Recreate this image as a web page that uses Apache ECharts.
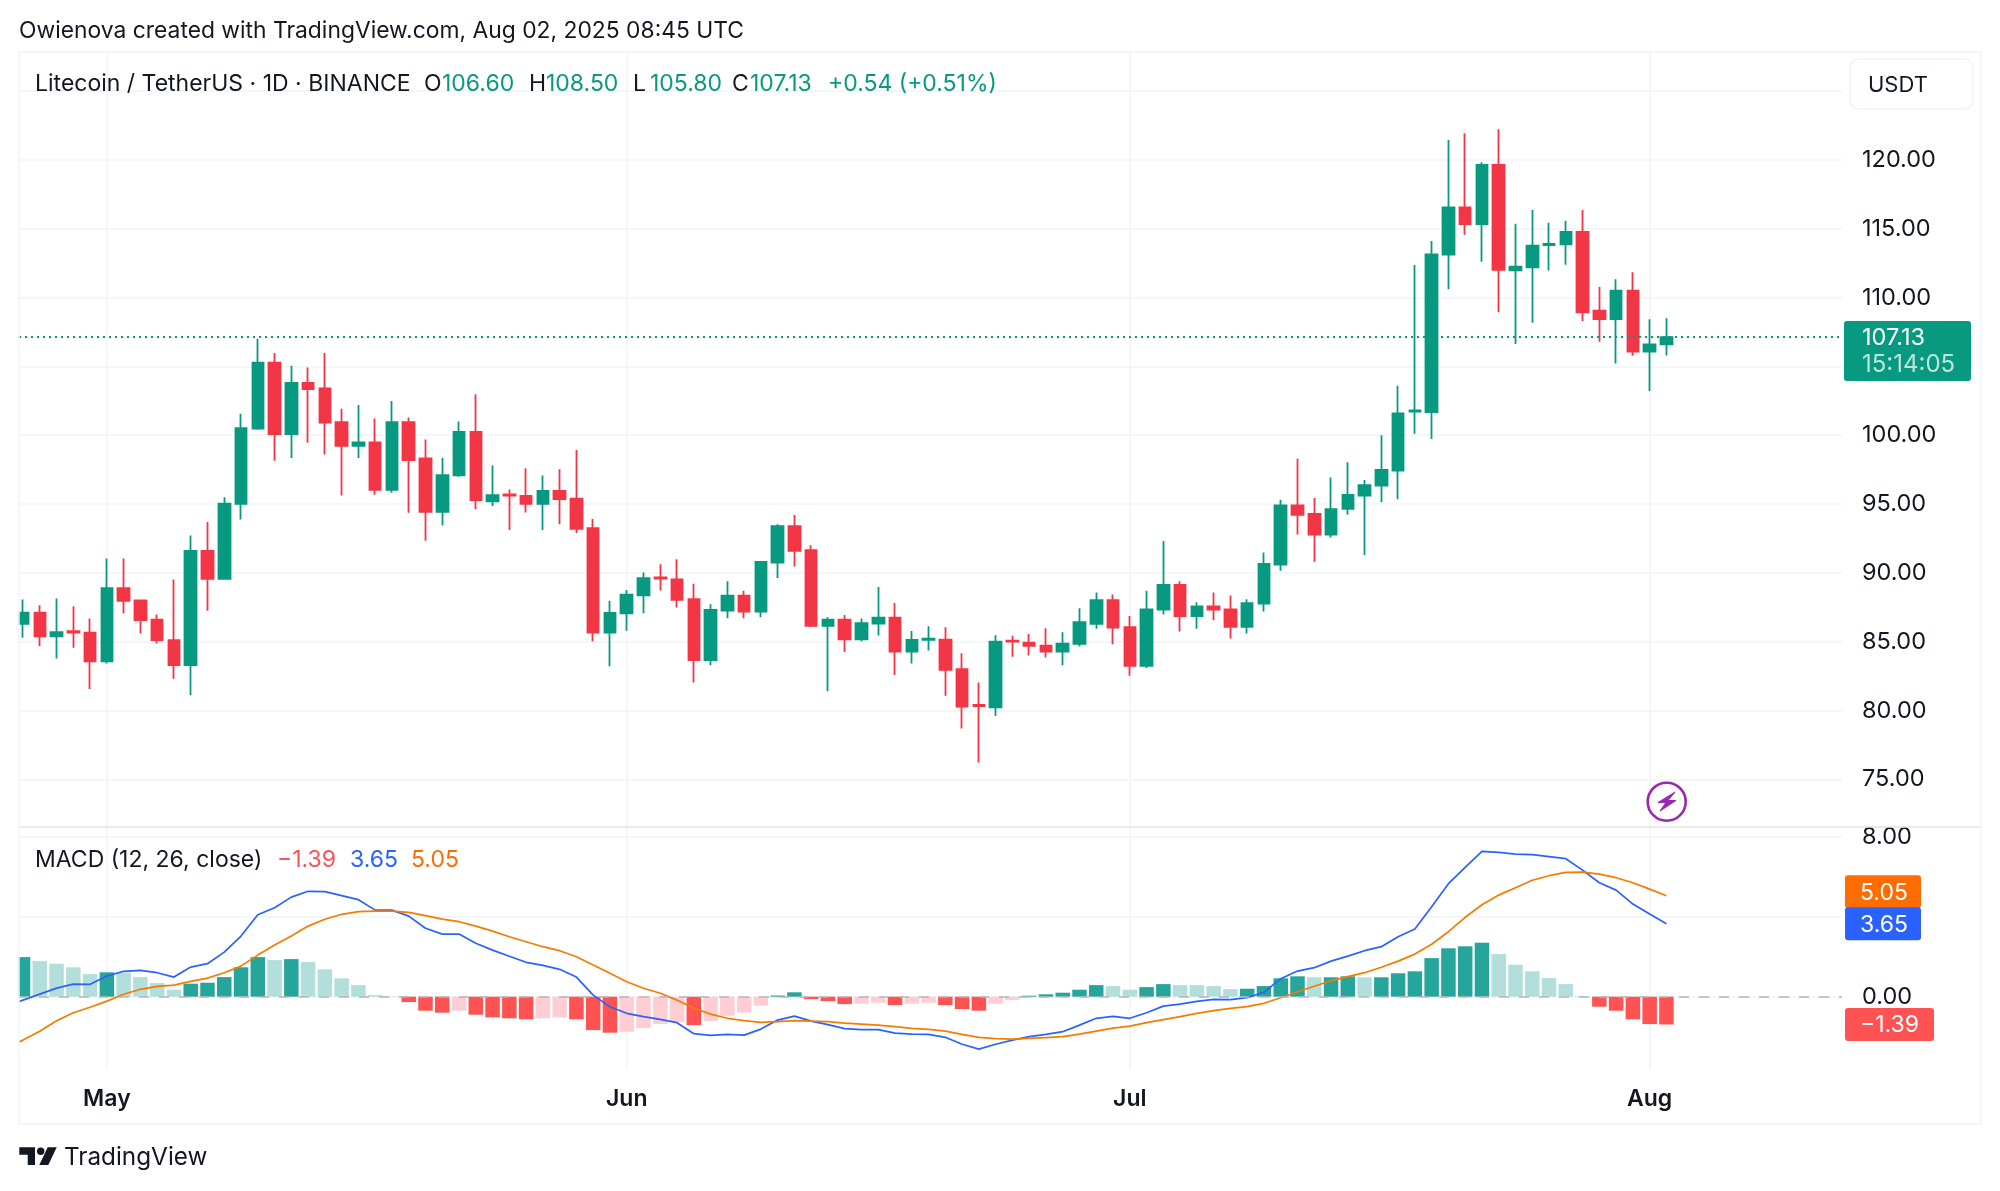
<!DOCTYPE html>
<html>
<head>
<meta charset="utf-8">
<title>Litecoin / TetherUS</title>
<script src="https://cdn.jsdelivr.net/npm/echarts@6/dist/echarts.min.js"></script>
<style>
  html, body { margin: 0; padding: 0; background: #fff; }
  #container { width: 2000px; height: 1191px; }
</style>
</head>
<body>
<div id="container"></div>
<script>
// daily candles, Apr 26 -> Aug 2 2025, x value is the day index
const opens = [86.30,87.10,85.38,85.77,85.65,83.56,88.89,87.99,86.59,85.11,83.29,91.60,89.57,95.02,100.49,105.27,100.08,103.81,103.40,100.95,99.23,99.48,96.04,100.95,98.31,94.44,97.08,100.25,95.19,95.70,95.59,95.01,95.95,95.40,93.24,85.66,87.06,88.37,89.66,89.53,88.08,83.65,87.26,88.35,87.19,90.75,93.39,91.64,86.14,86.60,85.17,86.31,86.75,84.28,85.13,85.15,83.00,80.40,80.23,85.08,84.93,84.71,84.28,84.84,86.29,88.01,86.05,83.24,87.33,89.12,86.85,87.57,87.35,86.07,87.77,90.60,94.91,94.28,92.78,94.65,95.62,96.34,97.43,101.71,101.69,113.12,116.56,115.35,119.64,111.98,112.20,113.82,113.87,114.77,109.05,108.44,110.50,106.07,106.60];
const closes = [87.10,85.38,85.69,85.65,83.56,88.89,87.97,86.56,85.11,83.29,91.60,89.57,95.02,100.52,105.27,100.08,103.81,103.35,100.91,99.23,99.48,96.04,100.95,98.19,94.44,97.10,100.25,95.29,95.65,95.62,95.01,95.95,95.35,93.19,85.66,87.09,88.42,89.61,89.58,88.03,83.65,87.31,88.35,87.19,90.79,93.39,91.59,86.14,86.60,85.17,86.34,86.75,84.28,85.13,85.22,82.95,80.28,80.31,85.00,85.00,84.69,84.28,84.86,86.41,88.01,86.02,83.24,87.35,89.12,86.85,87.57,87.33,86.07,87.79,90.65,94.91,94.21,92.78,94.62,95.66,96.37,97.48,101.59,101.81,113.14,116.56,115.35,119.64,112.01,112.25,113.77,113.90,114.77,108.93,108.44,110.50,106.07,106.60,107.13];
const lows = [85.28,84.68,83.78,84.55,81.55,83.42,87.05,85.60,84.87,82.30,81.11,87.24,89.52,93.88,100.40,98.14,98.34,99.45,98.60,95.62,98.34,95.67,95.82,94.37,92.33,93.44,96.98,94.63,94.85,93.11,94.38,93.12,93.53,92.90,85.03,83.21,85.80,87.06,88.71,87.48,82.03,83.29,86.70,86.70,86.77,89.63,90.46,86.07,81.39,84.25,85.03,85.44,82.58,83.41,84.35,81.06,78.68,76.22,79.60,83.91,83.99,83.84,83.29,84.64,85.93,84.81,82.53,83.09,86.97,85.73,85.93,86.56,85.22,85.59,87.19,90.16,92.78,90.81,92.56,94.23,91.29,95.13,95.35,100.10,99.73,110.60,114.57,112.61,108.93,106.63,108.18,111.98,112.39,108.30,106.80,105.22,105.78,103.21,105.80];
const highs = [88.07,87.65,88.14,87.58,86.69,91.05,91.05,88.07,86.98,89.52,92.72,93.69,95.50,101.56,107.01,105.97,105.05,104.93,105.97,101.92,102.19,101.22,102.48,101.29,99.69,98.36,101.00,102.97,97.80,96.06,97.60,97.07,97.53,98.93,93.92,87.98,88.76,90.02,90.63,90.99,89.20,87.72,89.39,88.69,90.84,93.53,94.21,92.00,86.77,86.94,86.68,88.98,87.81,85.78,86.12,86.05,84.16,82.04,85.47,85.42,85.56,85.97,85.68,87.42,88.57,88.42,86.87,88.69,92.32,89.39,87.86,88.57,88.35,88.08,91.47,95.32,98.30,95.44,96.92,98.04,96.75,100.00,103.60,112.37,114.11,121.45,121.94,119.83,122.23,115.37,116.37,115.45,115.59,116.37,110.77,111.33,111.84,108.42,108.50];

const histValues = [1.98,1.78,1.65,1.47,1.13,1.22,1.20,0.98,0.68,0.35,0.65,0.70,0.98,1.47,1.98,1.83,1.88,1.73,1.37,0.92,0.58,0.08,0.02,-0.27,-0.70,-0.80,-0.70,-0.90,-1.03,-1.08,-1.13,-1.08,-1.03,-1.13,-1.67,-1.80,-1.75,-1.57,-1.37,-1.28,-1.42,-1.22,-0.95,-0.80,-0.45,0.06,0.22,-0.12,-0.22,-0.37,-0.35,-0.30,-0.42,-0.35,-0.30,-0.42,-0.62,-0.70,-0.35,-0.17,0.05,0.12,0.20,0.35,0.58,0.53,0.35,0.48,0.63,0.58,0.58,0.53,0.38,0.40,0.53,0.92,1.02,0.97,0.97,1.02,0.97,0.97,1.17,1.27,1.93,2.42,2.52,2.70,2.13,1.60,1.27,0.93,0.63,0.03,-0.50,-0.70,-1.13,-1.37,-1.39];
// G/g dark and light green, R/r dark and light red
const histShades = ["G","g","g","g","g","G","g","g","g","g","G","G","G","G","G","g","G","g","g","g","g","g","g","R","R","R","r","R","R","R","R","r","r","R","R","R","r","r","r","r","R","r","r","r","r","G","G","R","R","R","r","r","R","r","r","R","R","R","r","r","G","G","G","G","G","g","g","G","G","g","g","g","g","G","G","G","G","g","G","G","g","G","G","G","G","G","G","G","g","g","g","g","g","g","R","R","R","R","R"];
const macdLine = [-0.17,0.13,0.43,0.63,0.62,1.03,1.27,1.32,1.20,0.98,1.48,1.65,2.23,3.03,4.10,4.45,4.98,5.27,5.25,5.05,4.85,4.33,4.33,4.03,3.42,3.13,3.13,2.67,2.33,2.02,1.72,1.57,1.37,0.98,0.08,-0.50,-0.83,-1.00,-1.13,-1.30,-1.85,-1.93,-1.88,-1.92,-1.62,-1.17,-0.97,-1.22,-1.40,-1.60,-1.65,-1.65,-1.82,-1.87,-1.88,-2.03,-2.38,-2.62,-2.38,-2.17,-2.00,-1.88,-1.75,-1.42,-1.08,-0.98,-1.08,-0.80,-0.47,-0.37,-0.23,-0.13,-0.15,-0.05,0.22,0.90,1.28,1.45,1.78,2.03,2.30,2.50,3.00,3.38,4.50,5.65,6.47,7.27,7.22,7.13,7.10,7.00,6.90,6.33,5.70,5.33,4.63,4.13,3.65];
const signalLine = [-2.17,-1.73,-1.20,-0.80,-0.53,-0.22,0.12,0.37,0.52,0.58,0.77,0.93,1.20,1.53,2.08,2.58,3.03,3.53,3.87,4.12,4.25,4.28,4.28,4.22,4.05,3.88,3.75,3.53,3.28,3.00,2.75,2.50,2.30,2.00,1.58,1.17,0.75,0.42,0.17,-0.17,-0.58,-0.87,-1.08,-1.20,-1.28,-1.25,-1.20,-1.22,-1.25,-1.32,-1.37,-1.42,-1.50,-1.58,-1.63,-1.72,-1.88,-2.03,-2.10,-2.12,-2.08,-2.05,-2.00,-1.87,-1.72,-1.57,-1.47,-1.30,-1.15,-1.00,-0.83,-0.70,-0.58,-0.50,-0.33,-0.05,0.25,0.52,0.80,1.00,1.20,1.47,1.78,2.13,2.62,3.25,3.97,4.60,5.08,5.45,5.82,6.05,6.22,6.23,6.13,5.95,5.70,5.38,5.05];
// where the two lines enter the chart at its left edge
const macdAtEdge = -0.24;
const signalAtEdge = -2.26;

// month starts as day index, and their labels
const monthDays = [5, 36, 66, 97];
const monthNames = ["May", "Jun", "Jul", "Aug"];
const priceTicks = [75, 80, 85, 90, 95, 100, 105, 110, 115, 120, 125];
const priceLabels = [75, 80, 85, 90, 95, 100, 105, 110, 115, 120];
const macdTicks = [0, 4, 8];
const macdLabels = [0, 8];
const lastPrice = 107.13;

const GREEN = "#089981", RED = "#F23645";
const GRID_LINE = "#F2F3F6";
const TEXT = "#131722";
const FONT = "Inter, 'Noto Sans', sans-serif";
const X_MIN = -0.24, X_MAX = 108.47;
const shadeColor = { G: "#26A69A", g: "#B2DFDB", R: "#FF5252", r: "#FFCDD2" };

const candleData = opens.map((o, i) => [i, o, closes[i], lows[i], highs[i]]);
const histData = histValues.map((v, i) => ({
  value: [i, v],
  itemStyle: { color: shadeColor[histShades[i]] }
}));
const macdData = [[X_MIN, macdAtEdge]].concat(macdLine.map((v, i) => [i, v]));
const signalData = [[X_MIN, signalAtEdge]].concat(signalLine.map((v, i) => [i, v]));

function timeAxis(gridIndex, showLabels) {
  return {
    type: "value",
    gridIndex: gridIndex,
    min: X_MIN,
    max: X_MAX,
    axisLine: { show: false },
    axisTick: { show: false, customValues: monthDays },
    splitLine: { show: true, lineStyle: { color: GRID_LINE, width: 1.5 } },
    axisLabel: {
      show: showLabels,
      customValues: monthDays,
      formatter: v => monthNames[monthDays.indexOf(v)],
      color: TEXT,
      fontFamily: FONT,
      fontSize: 23,
      fontWeight: 600,
      margin: 18,
      hideOverlap: false
    }
  };
}

function valueAxis(gridIndex, min, max, ticks, labels) {
  return {
    type: "value",
    gridIndex: gridIndex,
    position: "right",
    min: min,
    max: max,
    axisLine: { show: false },
    axisTick: { show: false, customValues: ticks },
    splitLine: { show: true, lineStyle: { color: GRID_LINE, width: 1.5 } },
    axisLabel: {
      customValues: labels,
      formatter: v => v.toFixed(2),
      color: TEXT,
      fontFamily: FONT,
      fontSize: 23.5,
      margin: 20,
      padding: [4, 0, 0, 0],
      hideOverlap: false
    }
  };
}

const chart = echarts.init(document.getElementById("container"));
chart.setOption({
  animation: false,
  backgroundColor: "#fff",
  grid: [
    { left: 19, top: 52, width: 1823, height: 775 },
    { left: 19, top: 828, width: 1823, height: 242 }
  ],
  xAxis: [timeAxis(0, false), timeAxis(1, true)],
  yAxis: [
    valueAxis(0, 71.53, 127.85, priceTicks, priceLabels),
    valueAxis(1, -3.665, 8.435, macdTicks, macdLabels)
  ],
  series: [
    {
      type: "candlestick",
      xAxisIndex: 0,
      yAxisIndex: 0,
      data: candleData,
      barWidth: 12,
      clip: true,
      itemStyle: {
        color: GREEN,
        color0: RED,
        borderColor: GREEN,
        borderColor0: RED,
        borderWidth: 1.8
      },
      markLine: {
        silent: true,
        symbol: "none",
        label: { show: false },
        lineStyle: { color: GREEN, type: [2, 4], width: 2 },
        data: [{ yAxis: lastPrice }]
      }
    },
    {
      type: "bar",
      xAxisIndex: 1,
      yAxisIndex: 1,
      data: histData,
      barWidth: 14.5,
      markLine: {
        silent: true,
        symbol: "none",
        label: { show: false },
        lineStyle: { color: "#B2B5BE", type: [10, 10], width: 1.5 },
        data: [{ yAxis: 0 }]
      }
    },
    {
      type: "line",
      xAxisIndex: 1,
      yAxisIndex: 1,
      data: macdData,
      symbol: "none",
      lineStyle: { color: "#2962FF", width: 1.7 }
    },
    {
      type: "line",
      xAxisIndex: 1,
      yAxisIndex: 1,
      data: signalData,
      symbol: "none",
      lineStyle: { color: "#F57C00", width: 1.7 }
    }
  ]
});

// plain text helper
function label(text, x, y, color, size, weight) {
  return {
    type: "text",
    x: x,
    y: y,
    z: 20,
    style: {
      text: text,
      fill: color,
      font: (weight || 400) + " " + size + "px " + FONT,
      verticalAlign: "middle",
      textAlign: "left"
    }
  };
}

// axis tag: coloured box with the value inside, centred on its level
function valueTag(text, level, nudge, width, color) {
  const cy = chart.convertToPixel({ yAxisIndex: 1 }, level) + nudge;
  return [
    {
      type: "rect",
      z: 19,
      shape: { x: 1845, y: cy - 16.5, width: width, height: 33, r: 3 },
      style: { fill: color }
    },
    label(text, 1860, cy + 1, "#fff", 23)
  ];
}

const priceY = chart.convertToPixel({ yAxisIndex: 0 }, lastPrice);
const decorations = [
  // candles and bars are cut off at the left edge of the panes
  { type: "rect", z: 15, shape: { x: 0, y: 52, width: 18.5, height: 1018 }, style: { fill: "#fff" } },
  // frame and pane separator
  { type: "rect", z: 16, shape: { x: 19, y: 52, width: 1962, height: 1072 }, style: { fill: "none", stroke: "#F0F3FA", lineWidth: 1.5 } },
  { type: "line", z: 1, shape: { x1: 19, y1: 827, x2: 1981, y2: 827 }, style: { stroke: "#E0E3EB", lineWidth: 1.5 } },
  // USDT box
  { type: "rect", z: 19, shape: { x: 1850, y: 59, width: 123, height: 50, r: 9 }, style: { fill: "#fff", stroke: "#F0F3FA", lineWidth: 1.5 } },
  label("USDT", 1868, 85, TEXT, 22),
  // last price tag
  { type: "rect", z: 19, shape: { x: 1844, y: priceY - 16, width: 127, height: 60, r: 3 }, style: { fill: GREEN } },
  label("107.13", 1862, priceY + 1, "#fff", 23.5),
  label("15:14:05", 1862, priceY + 28, "#BDE4DC", 24),
  // lightning badge
  { type: "circle", z: 19, shape: { cx: 1666.7, cy: 801.7, r: 19 }, style: { fill: "#fff", stroke: "#9C27B0", lineWidth: 2.6 } },
  { type: "polygon", z: 20, shape: { points: [[1675, 792], [1658, 802.5], [1666, 802.5], [1660, 811], [1676, 800.5], [1668, 800.5]] }, style: { fill: "#9C27B0", stroke: "#9C27B0", lineWidth: 1 } },
  // TradingView logo
  { type: "polygon", z: 20, shape: { points: [[19.3, 1147.3], [35, 1147.3], [35, 1165], [27.7, 1165], [27.7, 1154.7], [19.3, 1154.7]] }, style: { fill: TEXT } },
  { type: "circle", z: 20, shape: { cx: 40.7, cy: 1151.3, r: 3.7 }, style: { fill: TEXT } },
  { type: "polygon", z: 20, shape: { points: [[47.7, 1147.3], [56.7, 1147.3], [48.3, 1165], [39.3, 1165]] }, style: { fill: TEXT } },
  label("TradingView", 64, 1158, TEXT, 24.3),
  // headers
  label("Owienova created with TradingView.com, Aug 02, 2025 08:45 UTC", 19, 31, TEXT, 22.85),
  label("Litecoin / TetherUS \u00b7 1D \u00b7 BINANCE", 35, 84, TEXT, 23),
  label("O", 424, 84, TEXT, 23),
  label("106.60", 442, 84, GREEN, 23),
  label("H", 529, 84, TEXT, 23),
  label("108.50", 546, 84, GREEN, 23),
  label("L", 633, 84, TEXT, 23),
  label("105.80", 650, 84, GREEN, 23),
  label("C", 732, 84, TEXT, 23),
  label("107.13", 750, 84, GREEN, 23),
  label("+0.54 (+0.51%)", 828, 84, GREEN, 23),
  label("MACD (12, 26, close)", 35, 860, TEXT, 23),
  label("\u22121.39", 277, 860, "#F7525F", 23),
  label("3.65", 350, 860, "#2962FF", 23),
  label("5.05", 411, 860, "#FF6D00", 23)
];

chart.setOption({
  graphic: decorations
    .concat(valueTag("5.05", 5.05, -4, 76, "#FF6D00"))
    .concat(valueTag("3.65", 3.65, 0, 76, "#2962FF"))
    .concat(valueTag("\u22121.39", -1.39, 0, 89, "#FF5252"))
});
</script>
</body>
</html>
